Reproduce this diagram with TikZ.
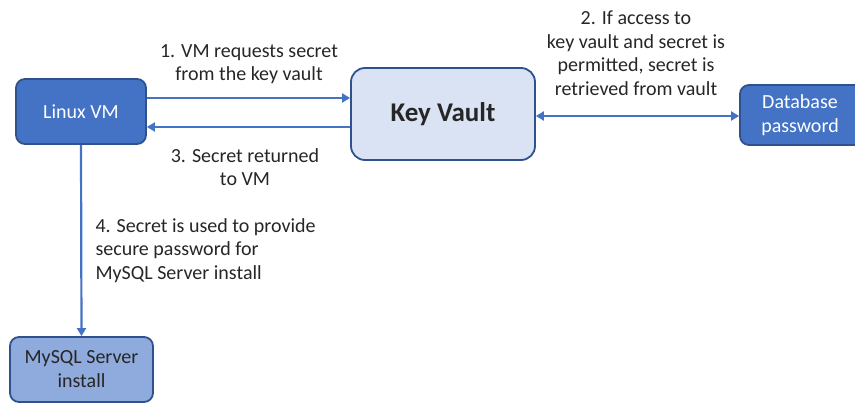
\documentclass[tikz,border=0pt]{standalone}
\usepackage{fontspec}
\setmainfont{Carlito}
\usetikzlibrary{arrows.meta}

\begin{document}
\begin{tikzpicture}[x=1pt,y=-1pt]
        \definecolor{boxblue}{RGB}{68,114,196}
        \definecolor{boxedge}{RGB}{47,82,143}
        \definecolor{boxpale}{RGB}{218,227,243}
        \definecolor{boxmid}{RGB}{143,170,220}
        \definecolor{txtgray}{RGB}{38,38,38}
        \tikzset{
            darkbox/.style={draw=boxedge,line width=1.8pt,fill=boxblue,rounded corners=9pt,
                text=white,align=center,font=\fontsize{20}{24}\selectfont},
            link/.style={boxblue,line width=2.2pt},
            note/.style={text=txtgray,font=\fontsize{20}{23.5}\selectfont}
        }
        \useasboundingbox (0,0) rectangle (855,403);

        % boxes
        \node[darkbox,minimum width=130pt,minimum height=65pt] (vm) at (81,111.5) {Linux VM};
        \node[darkbox,fill=boxpale,text=txtgray,rounded corners=14pt,
            minimum width=184pt,minimum height=92pt,font=\fontsize{27}{30}\selectfont\bfseries]
            (kv) at (443,114) {Key Vault};
        \node[darkbox,minimum width=128pt,minimum height=60pt] (db) at (804,115) {};
        \node[text=white,align=center,font=\fontsize{20}{23.5}\selectfont] (dbtxt) at (800,115)
            {Database\\password};
        \node[darkbox,fill=boxmid,text=txtgray,minimum width=143pt,minimum height=65pt]
            (mysql) at (81.5,369.5) {MySQL Server\\install};

        % connectors
        \draw[link,-{Triangle[length=8pt,width=9pt]}]
            ([yshift=13.5pt]vm.east) -- ([yshift=13.5pt]vm.east -| kv.west);
        \draw[link,-{Triangle[length=8pt,width=9pt]}]
            ([yshift=-15.5pt]vm.east -| kv.west) -- ([yshift=-15.5pt]vm.east);
        \draw[link,{Triangle[length=8pt,width=9pt]}-{Triangle[length=8pt,width=9pt]}]
            ([yshift=-2pt]kv.east) -- ([yshift=-2pt]kv.east -| db.west);
        \draw[link,-{Triangle[length=8pt,width=9pt]}]
            (vm.south) -- (mysql.north);

        % labels
        \node[note,align=center] (lbl1) at (249,64) {1. VM requests secret\\from the key vault};
        \node[note,align=center] (lbl2) at (636,53)
            {2. If access to\\key vault and secret is\\permitted, secret is\\retrieved from vault};
        \node[note,align=center] (lbl3) at (245,167) {3. Secret returned\\to VM};
        \node[note,align=left,anchor=north west] (lbl4) at (92,215)
            {4. Secret is used to provide\\secure password for\\MySQL Server install};
    \end{tikzpicture}
\end{document}
